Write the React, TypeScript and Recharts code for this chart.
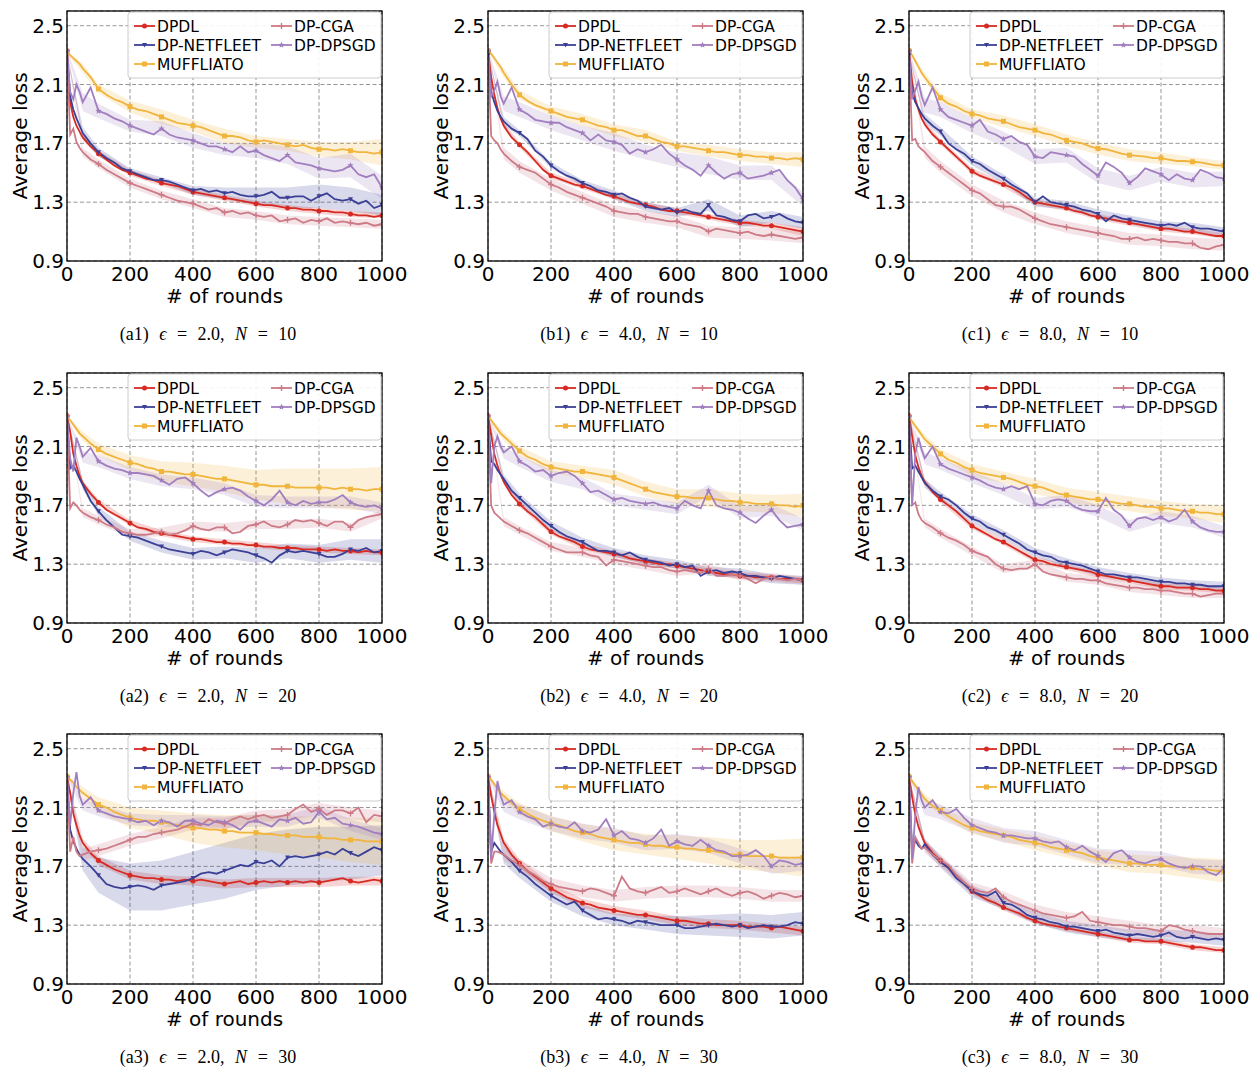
import React from 'react';
import { ComposedChart, Line, Area, XAxis, YAxis, CartesianGrid } from 'recharts';

// ---------- axes / categories ----------
const ROUNDS = [0, 10, 20, 30, 40, 50, 75, 100, 125, 150, 175, 200, 225, 250, 275, 300, 325, 350, 375, 400, 425, 450, 475, 500, 525, 550, 575, 600, 625, 650, 675, 700, 725, 750, 775, 800, 825, 850, 875, 900, 925, 950, 975, 1000];
const BAND_ROUNDS = [0, 50, 100, 200, 300, 400, 500, 600, 700, 800, 900, 1000];
const X_TICKS = [0, 200, 400, 600, 800, 1000];
const Y_TICKS = [0.9, 1.3, 1.7, 2.1, 2.5];
const METHODS = ['DPDL', 'DP-NETFLEET', 'MUFFLIATO', 'DP-CGA', 'DP-DPSGD'];
const COLORS = ['#d62a22', '#3b4096', '#f1b43c', '#cd7a87', '#a17ebf'];
const MARKERS = ['circle', 'triangle', 'square', 'plus', 'star'];

// ---------- (a1) eps=2.0, N=10 ----------
const a1_DPDL = [2.33, 1.98, 1.88, 1.82, 1.78, 1.74, 1.68, 1.63, 1.59, 1.55, 1.52, 1.50, 1.48, 1.46, 1.45, 1.43, 1.42, 1.41, 1.39, 1.37, 1.36, 1.35, 1.34, 1.33, 1.32, 1.31, 1.30, 1.29, 1.28, 1.28, 1.27, 1.26, 1.26, 1.25, 1.25, 1.24, 1.24, 1.23, 1.23, 1.22, 1.21, 1.21, 1.20, 1.21];
const a1_NETFLEET = [2.30, 2.02, 1.93, 1.87, 1.82, 1.77, 1.70, 1.64, 1.60, 1.57, 1.53, 1.51, 1.49, 1.47, 1.45, 1.45, 1.44, 1.42, 1.40, 1.38, 1.39, 1.37, 1.38, 1.36, 1.37, 1.35, 1.34, 1.34, 1.35, 1.37, 1.33, 1.33, 1.34, 1.34, 1.31, 1.34, 1.36, 1.32, 1.31, 1.32, 1.29, 1.31, 1.26, 1.28];
const a1_MUFFLIATO = [2.32, 2.30, 2.28, 2.26, 2.24, 2.21, 2.15, 2.07, 2.03, 2.00, 1.98, 1.95, 1.93, 1.92, 1.90, 1.88, 1.86, 1.84, 1.83, 1.82, 1.81, 1.79, 1.77, 1.75, 1.75, 1.74, 1.72, 1.71, 1.72, 1.71, 1.70, 1.69, 1.68, 1.69, 1.67, 1.66, 1.66, 1.65, 1.66, 1.65, 1.64, 1.64, 1.63, 1.64];
const a1_CGA = [2.33, 1.76, 1.80, 1.71, 1.67, 1.64, 1.59, 1.56, 1.52, 1.49, 1.46, 1.43, 1.41, 1.39, 1.37, 1.35, 1.33, 1.31, 1.30, 1.29, 1.27, 1.25, 1.26, 1.23, 1.24, 1.22, 1.23, 1.21, 1.20, 1.21, 1.17, 1.18, 1.19, 1.16, 1.18, 1.17, 1.19, 1.16, 1.17, 1.16, 1.15, 1.16, 1.14, 1.15];
const a1_DPSGD = [2.33, 2.05, 2.00, 2.10, 2.05, 1.98, 2.08, 1.92, 1.90, 1.87, 1.85, 1.82, 1.80, 1.78, 1.76, 1.80, 1.76, 1.74, 1.73, 1.72, 1.70, 1.68, 1.68, 1.66, 1.64, 1.68, 1.64, 1.65, 1.62, 1.60, 1.58, 1.62, 1.57, 1.56, 1.55, 1.53, 1.52, 1.51, 1.52, 1.55, 1.49, 1.47, 1.49, 1.40];
const a1_sd_DPDL = [0.01, 0.02, 0.02, 0.02, 0.02, 0.02, 0.02, 0.02, 0.02, 0.02, 0.02, 0.02];
const a1_sd_NETFLEET = [0.01, 0.04, 0.03, 0.02, 0.02, 0.03, 0.04, 0.06, 0.07, 0.08, 0.08, 0.07];
const a1_sd_MUFFLIATO = [0.01, 0.03, 0.03, 0.04, 0.05, 0.04, 0.05, 0.04, 0.04, 0.05, 0.06, 0.09];
const a1_sd_CGA = [0.01, 0.03, 0.03, 0.03, 0.03, 0.03, 0.03, 0.03, 0.03, 0.03, 0.03, 0.03];
const a1_sd_DPSGD = [0.01, 0.06, 0.05, 0.04, 0.05, 0.05, 0.04, 0.05, 0.06, 0.07, 0.08, 0.08];

// ---------- (b1) eps=4.0, N=10 ----------
const b1_DPDL = [2.33, 2.15, 2.03, 1.94, 1.87, 1.82, 1.74, 1.69, 1.64, 1.58, 1.52, 1.48, 1.46, 1.44, 1.42, 1.41, 1.39, 1.37, 1.35, 1.34, 1.32, 1.30, 1.29, 1.28, 1.27, 1.25, 1.24, 1.24, 1.23, 1.22, 1.21, 1.20, 1.19, 1.18, 1.17, 1.16, 1.16, 1.15, 1.14, 1.14, 1.13, 1.12, 1.11, 1.10];
const b1_NETFLEET = [2.30, 2.05, 1.98, 1.92, 1.88, 1.85, 1.80, 1.77, 1.73, 1.65, 1.61, 1.55, 1.51, 1.48, 1.46, 1.43, 1.41, 1.38, 1.37, 1.35, 1.36, 1.33, 1.31, 1.27, 1.26, 1.25, 1.26, 1.23, 1.25, 1.23, 1.22, 1.28, 1.21, 1.20, 1.18, 1.17, 1.21, 1.22, 1.19, 1.20, 1.22, 1.19, 1.17, 1.16];
const b1_MUFFLIATO = [2.33, 2.31, 2.28, 2.25, 2.22, 2.18, 2.10, 2.03, 1.99, 1.96, 1.94, 1.92, 1.90, 1.88, 1.87, 1.86, 1.84, 1.82, 1.81, 1.79, 1.79, 1.77, 1.75, 1.75, 1.73, 1.71, 1.70, 1.68, 1.68, 1.67, 1.66, 1.65, 1.64, 1.64, 1.63, 1.62, 1.62, 1.61, 1.61, 1.60, 1.60, 1.59, 1.60, 1.59];
const b1_CGA = [2.33, 1.75, 1.72, 1.70, 1.66, 1.63, 1.58, 1.54, 1.52, 1.50, 1.46, 1.42, 1.40, 1.37, 1.35, 1.33, 1.31, 1.29, 1.27, 1.24, 1.23, 1.22, 1.22, 1.20, 1.19, 1.18, 1.17, 1.17, 1.15, 1.14, 1.13, 1.10, 1.12, 1.11, 1.10, 1.09, 1.10, 1.08, 1.07, 1.08, 1.07, 1.06, 1.05, 1.06];
const b1_DPSGD = [2.33, 2.02, 2.06, 2.12, 2.02, 1.97, 2.08, 1.93, 1.90, 1.86, 1.85, 1.84, 1.84, 1.81, 1.79, 1.77, 1.72, 1.76, 1.72, 1.71, 1.69, 1.63, 1.66, 1.64, 1.66, 1.69, 1.63, 1.59, 1.55, 1.52, 1.48, 1.55, 1.50, 1.46, 1.49, 1.50, 1.46, 1.47, 1.48, 1.50, 1.52, 1.45, 1.40, 1.32];
const b1_sd_DPDL = [0.01, 0.02, 0.02, 0.02, 0.02, 0.02, 0.02, 0.02, 0.02, 0.02, 0.02, 0.03];
const b1_sd_NETFLEET = [0.01, 0.03, 0.02, 0.02, 0.02, 0.03, 0.03, 0.03, 0.04, 0.04, 0.04, 0.04];
const b1_sd_MUFFLIATO = [0.01, 0.03, 0.03, 0.03, 0.04, 0.04, 0.04, 0.03, 0.04, 0.04, 0.04, 0.05];
const b1_sd_CGA = [0.01, 0.04, 0.04, 0.04, 0.04, 0.04, 0.04, 0.04, 0.04, 0.04, 0.04, 0.04];
const b1_sd_DPSGD = [0.01, 0.05, 0.05, 0.05, 0.05, 0.06, 0.05, 0.05, 0.06, 0.05, 0.05, 0.05];

// ---------- (c1) eps=8.0, N=10 ----------
const c1_DPDL = [2.33, 2.12, 2.00, 1.93, 1.87, 1.83, 1.76, 1.71, 1.66, 1.61, 1.56, 1.51, 1.48, 1.46, 1.44, 1.42, 1.40, 1.37, 1.33, 1.30, 1.29, 1.28, 1.27, 1.26, 1.24, 1.23, 1.21, 1.20, 1.19, 1.18, 1.17, 1.16, 1.15, 1.14, 1.13, 1.12, 1.12, 1.11, 1.10, 1.10, 1.09, 1.08, 1.07, 1.07];
const c1_NETFLEET = [2.30, 2.04, 1.98, 1.94, 1.90, 1.87, 1.82, 1.78, 1.70, 1.66, 1.63, 1.58, 1.56, 1.52, 1.49, 1.46, 1.42, 1.39, 1.36, 1.30, 1.34, 1.30, 1.29, 1.28, 1.27, 1.25, 1.24, 1.22, 1.17, 1.21, 1.19, 1.18, 1.17, 1.16, 1.15, 1.14, 1.15, 1.14, 1.16, 1.13, 1.12, 1.12, 1.11, 1.10];
const c1_MUFFLIATO = [2.33, 2.30, 2.26, 2.22, 2.18, 2.15, 2.08, 2.01, 1.97, 1.95, 1.92, 1.90, 1.89, 1.87, 1.86, 1.85, 1.83, 1.81, 1.80, 1.79, 1.77, 1.76, 1.74, 1.72, 1.71, 1.70, 1.68, 1.665, 1.66, 1.645, 1.63, 1.62, 1.615, 1.61, 1.60, 1.60, 1.59, 1.58, 1.58, 1.575, 1.57, 1.56, 1.55, 1.55];
const c1_CGA = [2.33, 1.72, 1.73, 1.68, 1.66, 1.64, 1.58, 1.54, 1.50, 1.46, 1.42, 1.38, 1.36, 1.32, 1.28, 1.27, 1.27, 1.25, 1.22, 1.19, 1.17, 1.15, 1.14, 1.13, 1.12, 1.11, 1.10, 1.09, 1.08, 1.07, 1.05, 1.05, 1.06, 1.04, 1.05, 1.04, 1.03, 1.03, 1.02, 1.02, 0.99, 0.98, 1.00, 1.01];
const c1_DPSGD = [2.33, 2.00, 2.06, 2.12, 2.02, 1.96, 2.08, 1.93, 1.88, 1.86, 1.84, 1.82, 1.86, 1.78, 1.76, 1.73, 1.75, 1.71, 1.69, 1.61, 1.60, 1.64, 1.63, 1.62, 1.61, 1.56, 1.52, 1.48, 1.57, 1.54, 1.50, 1.43, 1.47, 1.53, 1.51, 1.49, 1.45, 1.49, 1.46, 1.45, 1.52, 1.50, 1.47, 1.46];
const c1_sd_DPDL = [0.01, 0.02, 0.02, 0.02, 0.02, 0.02, 0.02, 0.02, 0.02, 0.02, 0.02, 0.02];
const c1_sd_NETFLEET = [0.01, 0.03, 0.03, 0.03, 0.03, 0.03, 0.03, 0.03, 0.03, 0.03, 0.03, 0.03];
const c1_sd_MUFFLIATO = [0.01, 0.03, 0.03, 0.03, 0.04, 0.04, 0.04, 0.04, 0.04, 0.04, 0.03, 0.03];
const c1_sd_CGA = [0.01, 0.04, 0.04, 0.04, 0.04, 0.04, 0.04, 0.04, 0.04, 0.04, 0.04, 0.04];
const c1_sd_DPSGD = [0.01, 0.05, 0.05, 0.05, 0.05, 0.05, 0.05, 0.05, 0.05, 0.05, 0.05, 0.05];

// ---------- (a2) eps=2.0, N=20 ----------
const a2_DPDL = [2.31, 2.20, 2.05, 1.97, 1.90, 1.85, 1.78, 1.72, 1.67, 1.64, 1.61, 1.58, 1.55, 1.54, 1.52, 1.51, 1.50, 1.49, 1.48, 1.47, 1.47, 1.46, 1.45, 1.45, 1.44, 1.44, 1.43, 1.43, 1.42, 1.42, 1.41, 1.41, 1.41, 1.40, 1.40, 1.40, 1.39, 1.40, 1.39, 1.39, 1.38, 1.39, 1.38, 1.38];
const a2_NETFLEET = [2.30, 1.95, 1.97, 1.93, 1.88, 1.84, 1.73, 1.66, 1.60, 1.55, 1.50, 1.49, 1.48, 1.46, 1.44, 1.42, 1.40, 1.39, 1.38, 1.37, 1.39, 1.38, 1.36, 1.38, 1.40, 1.39, 1.38, 1.36, 1.34, 1.31, 1.36, 1.39, 1.38, 1.39, 1.38, 1.37, 1.35, 1.35, 1.37, 1.40, 1.39, 1.41, 1.38, 1.39];
const a2_MUFFLIATO = [2.30, 2.28, 2.25, 2.22, 2.19, 2.17, 2.12, 2.08, 2.05, 2.03, 2.01, 1.99, 1.98, 1.96, 1.95, 1.93, 1.93, 1.92, 1.91, 1.91, 1.90, 1.89, 1.88, 1.88, 1.87, 1.86, 1.85, 1.84, 1.84, 1.83, 1.83, 1.83, 1.82, 1.82, 1.82, 1.82, 1.82, 1.81, 1.82, 1.81, 1.81, 1.80, 1.81, 1.81];
const a2_CGA = [2.31, 1.68, 1.72, 1.70, 1.67, 1.65, 1.62, 1.60, 1.57, 1.55, 1.52, 1.51, 1.50, 1.50, 1.51, 1.52, 1.50, 1.51, 1.53, 1.56, 1.54, 1.53, 1.55, 1.55, 1.51, 1.52, 1.56, 1.57, 1.59, 1.56, 1.55, 1.57, 1.60, 1.59, 1.60, 1.58, 1.56, 1.59, 1.59, 1.55, 1.60, 1.62, 1.63, 1.64];
const a2_DPSGD = [2.30, 2.02, 1.93, 2.16, 2.10, 2.03, 2.09, 2.00, 1.97, 1.95, 1.94, 1.92, 1.92, 1.91, 1.90, 1.87, 1.84, 1.88, 1.89, 1.85, 1.80, 1.76, 1.79, 1.81, 1.82, 1.80, 1.76, 1.73, 1.70, 1.74, 1.80, 1.72, 1.70, 1.73, 1.71, 1.72, 1.72, 1.74, 1.77, 1.72, 1.70, 1.69, 1.70, 1.68];
const a2_sd_DPDL = [0.01, 0.02, 0.02, 0.02, 0.02, 0.02, 0.02, 0.02, 0.02, 0.02, 0.02, 0.02];
const a2_sd_NETFLEET = [0.01, 0.03, 0.03, 0.03, 0.04, 0.04, 0.04, 0.05, 0.05, 0.06, 0.07, 0.08];
const a2_sd_MUFFLIATO = [0.01, 0.03, 0.04, 0.05, 0.07, 0.08, 0.09, 0.10, 0.12, 0.13, 0.14, 0.15];
const a2_sd_CGA = [0.01, 0.03, 0.03, 0.03, 0.03, 0.03, 0.03, 0.03, 0.03, 0.03, 0.03, 0.03];
const a2_sd_DPSGD = [0.01, 0.04, 0.04, 0.04, 0.04, 0.04, 0.04, 0.04, 0.04, 0.04, 0.04, 0.04];

// ---------- (b2) eps=4.0, N=20 ----------
const b2_DPDL = [2.31, 2.18, 2.05, 1.97, 1.91, 1.86, 1.77, 1.71, 1.66, 1.62, 1.57, 1.52, 1.49, 1.47, 1.45, 1.42, 1.40, 1.39, 1.38, 1.37, 1.36, 1.34, 1.33, 1.32, 1.31, 1.30, 1.30, 1.29, 1.28, 1.27, 1.26, 1.25, 1.24, 1.23, 1.23, 1.22, 1.22, 1.21, 1.21, 1.21, 1.20, 1.20, 1.20, 1.19];
const b2_NETFLEET = [2.30, 2.00, 1.98, 1.94, 1.91, 1.88, 1.80, 1.75, 1.70, 1.65, 1.60, 1.56, 1.52, 1.49, 1.47, 1.45, 1.42, 1.39, 1.39, 1.38, 1.36, 1.38, 1.35, 1.33, 1.32, 1.31, 1.29, 1.30, 1.28, 1.29, 1.22, 1.25, 1.26, 1.24, 1.25, 1.24, 1.22, 1.22, 1.21, 1.20, 1.22, 1.21, 1.20, 1.19];
const b2_MUFFLIATO = [2.30, 2.28, 2.25, 2.22, 2.19, 2.17, 2.12, 2.07, 2.03, 2.01, 1.98, 1.96, 1.95, 1.94, 1.93, 1.93, 1.92, 1.91, 1.90, 1.89, 1.87, 1.85, 1.83, 1.81, 1.79, 1.78, 1.77, 1.76, 1.76, 1.75, 1.75, 1.75, 1.74, 1.73, 1.73, 1.72, 1.72, 1.71, 1.71, 1.71, 1.70, 1.70, 1.69, 1.70];
const b2_CGA = [2.31, 1.70, 1.65, 1.63, 1.61, 1.59, 1.56, 1.53, 1.51, 1.48, 1.45, 1.42, 1.40, 1.38, 1.38, 1.38, 1.36, 1.35, 1.29, 1.33, 1.32, 1.31, 1.30, 1.29, 1.28, 1.28, 1.26, 1.25, 1.26, 1.25, 1.24, 1.27, 1.22, 1.22, 1.23, 1.22, 1.20, 1.17, 1.20, 1.21, 1.20, 1.19, 1.20, 1.19];
const b2_DPSGD = [2.30, 1.85, 2.10, 2.17, 2.10, 2.06, 2.10, 2.00, 1.97, 1.93, 1.94, 1.90, 1.92, 1.93, 1.90, 1.85, 1.79, 1.80, 1.77, 1.74, 1.75, 1.73, 1.72, 1.71, 1.72, 1.70, 1.69, 1.68, 1.73, 1.70, 1.68, 1.80, 1.70, 1.68, 1.67, 1.65, 1.61, 1.58, 1.63, 1.67, 1.60, 1.55, 1.56, 1.57];
const b2_sd_DPDL = [0.01, 0.02, 0.02, 0.02, 0.02, 0.02, 0.02, 0.02, 0.02, 0.02, 0.02, 0.02];
const b2_sd_NETFLEET = [0.01, 0.03, 0.03, 0.03, 0.03, 0.03, 0.03, 0.03, 0.03, 0.03, 0.03, 0.03];
const b2_sd_MUFFLIATO = [0.01, 0.03, 0.03, 0.04, 0.04, 0.05, 0.05, 0.05, 0.06, 0.06, 0.06, 0.08];
const b2_sd_CGA = [0.01, 0.03, 0.03, 0.03, 0.03, 0.03, 0.03, 0.03, 0.03, 0.03, 0.03, 0.03];
const b2_sd_DPSGD = [0.01, 0.04, 0.04, 0.04, 0.04, 0.04, 0.04, 0.04, 0.04, 0.04, 0.04, 0.04];

// ---------- (c2) eps=8.0, N=20 ----------
const c2_DPDL = [2.31, 2.17, 2.04, 1.96, 1.90, 1.86, 1.79, 1.74, 1.70, 1.66, 1.61, 1.56, 1.53, 1.50, 1.47, 1.45, 1.42, 1.39, 1.36, 1.33, 1.32, 1.30, 1.29, 1.28, 1.27, 1.26, 1.25, 1.23, 1.22, 1.21, 1.20, 1.19, 1.18, 1.17, 1.16, 1.15, 1.15, 1.14, 1.14, 1.14, 1.13, 1.13, 1.12, 1.12];
const c2_NETFLEET = [2.30, 1.95, 1.97, 1.93, 1.89, 1.85, 1.80, 1.76, 1.74, 1.70, 1.65, 1.61, 1.59, 1.55, 1.53, 1.50, 1.47, 1.44, 1.40, 1.38, 1.36, 1.35, 1.32, 1.31, 1.30, 1.29, 1.27, 1.25, 1.23, 1.23, 1.22, 1.21, 1.21, 1.20, 1.19, 1.18, 1.18, 1.17, 1.17, 1.16, 1.16, 1.15, 1.15, 1.15];
const c2_MUFFLIATO = [2.30, 2.27, 2.24, 2.21, 2.18, 2.15, 2.10, 2.05, 2.01, 1.99, 1.96, 1.94, 1.92, 1.91, 1.90, 1.89, 1.88, 1.86, 1.84, 1.83, 1.82, 1.80, 1.78, 1.77, 1.76, 1.75, 1.74, 1.74, 1.73, 1.72, 1.71, 1.71, 1.70, 1.69, 1.69, 1.68, 1.68, 1.67, 1.66, 1.66, 1.65, 1.65, 1.64, 1.64];
const c2_CGA = [2.31, 1.70, 1.72, 1.64, 1.60, 1.58, 1.55, 1.51, 1.48, 1.46, 1.43, 1.39, 1.37, 1.35, 1.30, 1.27, 1.26, 1.27, 1.27, 1.30, 1.25, 1.23, 1.22, 1.21, 1.20, 1.20, 1.19, 1.19, 1.17, 1.16, 1.15, 1.14, 1.14, 1.13, 1.13, 1.12, 1.12, 1.11, 1.10, 1.10, 1.08, 1.09, 1.10, 1.10];
const c2_DPSGD = [2.30, 1.70, 2.05, 2.16, 2.08, 2.02, 2.10, 1.98, 1.95, 1.93, 1.91, 1.89, 1.87, 1.84, 1.82, 1.81, 1.83, 1.81, 1.83, 1.71, 1.70, 1.73, 1.74, 1.73, 1.69, 1.67, 1.66, 1.66, 1.75, 1.67, 1.63, 1.56, 1.61, 1.62, 1.60, 1.62, 1.59, 1.61, 1.67, 1.59, 1.55, 1.53, 1.52, 1.52];
const c2_sd_DPDL = [0.01, 0.02, 0.02, 0.02, 0.02, 0.02, 0.02, 0.02, 0.02, 0.02, 0.02, 0.02];
const c2_sd_NETFLEET = [0.01, 0.03, 0.03, 0.03, 0.03, 0.03, 0.03, 0.03, 0.03, 0.03, 0.03, 0.03];
const c2_sd_MUFFLIATO = [0.01, 0.03, 0.03, 0.04, 0.04, 0.05, 0.05, 0.05, 0.05, 0.05, 0.05, 0.06];
const c2_sd_CGA = [0.01, 0.03, 0.03, 0.03, 0.03, 0.03, 0.03, 0.03, 0.03, 0.03, 0.03, 0.03];
const c2_sd_DPSGD = [0.01, 0.04, 0.04, 0.04, 0.04, 0.04, 0.04, 0.04, 0.04, 0.04, 0.04, 0.04];

// ---------- (a3) eps=2.0, N=30 ----------
const a3_DPDL = [2.31, 2.20, 2.06, 1.98, 1.91, 1.86, 1.79, 1.74, 1.71, 1.68, 1.66, 1.64, 1.63, 1.62, 1.62, 1.61, 1.61, 1.60, 1.61, 1.60, 1.61, 1.60, 1.59, 1.58, 1.59, 1.60, 1.58, 1.59, 1.60, 1.59, 1.60, 1.59, 1.60, 1.59, 1.60, 1.59, 1.60, 1.61, 1.62, 1.60, 1.59, 1.60, 1.61, 1.60];
const a3_NETFLEET = [2.30, 1.95, 1.87, 1.82, 1.78, 1.75, 1.70, 1.64, 1.58, 1.56, 1.55, 1.56, 1.57, 1.56, 1.54, 1.57, 1.58, 1.59, 1.60, 1.62, 1.65, 1.66, 1.65, 1.67, 1.69, 1.71, 1.70, 1.73, 1.72, 1.74, 1.70, 1.76, 1.77, 1.76, 1.77, 1.78, 1.80, 1.78, 1.82, 1.79, 1.77, 1.80, 1.83, 1.81];
const a3_MUFFLIATO = [2.31, 2.29, 2.27, 2.24, 2.22, 2.20, 2.16, 2.12, 2.10, 2.07, 2.05, 2.03, 2.02, 2.01, 2.01, 2.00, 1.99, 1.98, 1.97, 1.96, 1.96, 1.95, 1.95, 1.94, 1.94, 1.93, 1.93, 1.93, 1.92, 1.92, 1.91, 1.91, 1.91, 1.90, 1.90, 1.90, 1.89, 1.89, 1.88, 1.88, 1.88, 1.87, 1.87, 1.87];
const a3_CGA = [2.31, 1.80, 1.90, 1.80, 1.77, 1.78, 1.80, 1.81, 1.82, 1.84, 1.86, 1.88, 1.90, 1.90, 1.92, 1.93, 1.94, 1.95, 1.97, 1.99, 1.98, 2.02, 2.00, 1.99, 2.02, 2.04, 2.02, 2.04, 2.05, 2.03, 2.04, 2.05, 2.09, 2.12, 2.07, 2.09, 2.05, 2.08, 2.08, 2.06, 2.10, 2.00, 2.05, 2.04];
const a3_DPSGD = [2.31, 1.98, 2.20, 2.34, 2.18, 2.12, 2.17, 2.08, 2.06, 2.04, 2.03, 2.02, 2.00, 2.01, 1.98, 2.01, 2.00, 1.97, 2.01, 2.01, 1.99, 1.98, 2.01, 2.00, 1.98, 1.95, 2.00, 2.01, 1.99, 1.97, 2.02, 2.01, 2.03, 1.99, 2.00, 2.07, 2.02, 2.03, 1.99, 1.98, 1.97, 1.95, 1.93, 1.92];
const a3_sd_DPDL = [0.01, 0.03, 0.03, 0.03, 0.03, 0.03, 0.03, 0.03, 0.03, 0.03, 0.03, 0.03];
const a3_sd_NETFLEET = [0.01, 0.08, 0.12, 0.16, 0.17, 0.18, 0.19, 0.19, 0.19, 0.19, 0.18, 0.17];
const a3_sd_MUFFLIATO = [0.01, 0.04, 0.05, 0.07, 0.08, 0.10, 0.11, 0.12, 0.13, 0.14, 0.15, 0.16];
const a3_sd_CGA = [0.01, 0.04, 0.04, 0.04, 0.04, 0.04, 0.04, 0.04, 0.04, 0.04, 0.04, 0.04];
const a3_sd_DPSGD = [0.01, 0.04, 0.04, 0.04, 0.04, 0.04, 0.04, 0.04, 0.04, 0.04, 0.04, 0.04];

// ---------- (b3) eps=4.0, N=30 ----------
const b3_DPDL = [2.31, 2.18, 2.07, 1.98, 1.92, 1.86, 1.78, 1.72, 1.67, 1.63, 1.59, 1.55, 1.52, 1.49, 1.47, 1.45, 1.44, 1.42, 1.41, 1.40, 1.39, 1.38, 1.37, 1.37, 1.36, 1.35, 1.34, 1.33, 1.33, 1.32, 1.31, 1.31, 1.30, 1.30, 1.30, 1.30, 1.29, 1.29, 1.29, 1.28, 1.29, 1.28, 1.27, 1.26];
const b3_NETFLEET = [2.30, 1.80, 1.86, 1.83, 1.80, 1.78, 1.73, 1.67, 1.63, 1.58, 1.54, 1.50, 1.47, 1.44, 1.46, 1.40, 1.37, 1.34, 1.35, 1.34, 1.33, 1.31, 1.33, 1.32, 1.31, 1.30, 1.30, 1.30, 1.28, 1.28, 1.29, 1.30, 1.31, 1.30, 1.29, 1.30, 1.28, 1.29, 1.30, 1.29, 1.29, 1.30, 1.32, 1.31];
const b3_MUFFLIATO = [2.31, 2.29, 2.26, 2.23, 2.20, 2.18, 2.13, 2.09, 2.06, 2.03, 2.01, 1.99, 1.98, 1.96, 1.94, 1.93, 1.92, 1.90, 1.89, 1.88, 1.87, 1.86, 1.86, 1.85, 1.84, 1.84, 1.83, 1.83, 1.82, 1.82, 1.81, 1.81, 1.80, 1.79, 1.78, 1.78, 1.77, 1.77, 1.77, 1.77, 1.76, 1.76, 1.76, 1.76];
const b3_CGA = [2.31, 1.72, 1.80, 1.80, 1.79, 1.78, 1.74, 1.71, 1.67, 1.64, 1.60, 1.58, 1.56, 1.55, 1.54, 1.53, 1.55, 1.54, 1.52, 1.50, 1.63, 1.55, 1.53, 1.52, 1.54, 1.56, 1.52, 1.53, 1.55, 1.53, 1.51, 1.53, 1.55, 1.52, 1.50, 1.52, 1.53, 1.51, 1.48, 1.50, 1.52, 1.51, 1.49, 1.50];
const b3_DPSGD = [2.31, 1.75, 2.05, 2.28, 2.18, 2.12, 2.15, 2.07, 2.04, 2.02, 1.97, 1.99, 1.97, 1.96, 2.00, 1.94, 1.93, 1.95, 2.02, 1.91, 1.94, 1.89, 1.88, 1.86, 1.89, 1.95, 1.84, 1.87, 1.85, 1.84, 1.88, 1.84, 1.81, 1.80, 1.77, 1.77, 1.78, 1.81, 1.77, 1.70, 1.74, 1.73, 1.71, 1.72];
const b3_sd_DPDL = [0.01, 0.03, 0.03, 0.03, 0.03, 0.03, 0.03, 0.03, 0.03, 0.03, 0.03, 0.03];
const b3_sd_NETFLEET = [0.01, 0.06, 0.05, 0.04, 0.04, 0.04, 0.05, 0.06, 0.07, 0.08, 0.08, 0.08];
const b3_sd_MUFFLIATO = [0.01, 0.03, 0.04, 0.05, 0.06, 0.07, 0.07, 0.08, 0.09, 0.10, 0.11, 0.13];
const b3_sd_CGA = [0.01, 0.04, 0.04, 0.04, 0.04, 0.04, 0.04, 0.04, 0.04, 0.04, 0.04, 0.04];
const b3_sd_DPSGD = [0.01, 0.05, 0.05, 0.05, 0.05, 0.05, 0.05, 0.05, 0.05, 0.05, 0.05, 0.05];

// ---------- (c3) eps=8.0, N=30 ----------
const c3_DPDL = [2.31, 2.17, 2.05, 1.97, 1.91, 1.86, 1.79, 1.74, 1.69, 1.64, 1.59, 1.53, 1.50, 1.47, 1.45, 1.42, 1.40, 1.38, 1.35, 1.33, 1.31, 1.30, 1.29, 1.28, 1.27, 1.26, 1.25, 1.24, 1.23, 1.22, 1.21, 1.20, 1.20, 1.19, 1.19, 1.19, 1.18, 1.17, 1.16, 1.15, 1.15, 1.14, 1.13, 1.13];
const c3_NETFLEET = [2.30, 1.80, 1.88, 1.84, 1.82, 1.85, 1.78, 1.73, 1.69, 1.62, 1.58, 1.53, 1.51, 1.50, 1.53, 1.45, 1.44, 1.41, 1.37, 1.35, 1.34, 1.32, 1.31, 1.29, 1.29, 1.28, 1.27, 1.26, 1.27, 1.25, 1.24, 1.23, 1.24, 1.23, 1.22, 1.23, 1.25, 1.22, 1.21, 1.22, 1.21, 1.20, 1.21, 1.20];
const c3_MUFFLIATO = [2.31, 2.28, 2.25, 2.22, 2.19, 2.16, 2.11, 2.08, 2.04, 2.01, 1.98, 1.96, 1.94, 1.93, 1.92, 1.91, 1.90, 1.88, 1.87, 1.86, 1.85, 1.83, 1.82, 1.81, 1.80, 1.79, 1.77, 1.76, 1.75, 1.74, 1.73, 1.72, 1.72, 1.71, 1.71, 1.71, 1.70, 1.70, 1.69, 1.69, 1.68, 1.68, 1.67, 1.67];
const c3_CGA = [2.31, 1.72, 1.90, 1.86, 1.82, 1.83, 1.78, 1.74, 1.71, 1.64, 1.59, 1.55, 1.53, 1.52, 1.55, 1.49, 1.46, 1.44, 1.42, 1.40, 1.38, 1.37, 1.36, 1.35, 1.36, 1.39, 1.33, 1.32, 1.31, 1.30, 1.30, 1.29, 1.28, 1.28, 1.27, 1.26, 1.30, 1.29, 1.27, 1.26, 1.25, 1.24, 1.24, 1.24];
const c3_DPSGD = [2.31, 1.75, 2.05, 2.24, 2.15, 2.10, 2.15, 2.07, 2.06, 2.09, 2.03, 1.98, 1.96, 1.94, 1.93, 1.91, 1.91, 1.90, 1.89, 1.89, 1.87, 1.86, 1.87, 1.83, 1.81, 1.84, 1.80, 1.77, 1.73, 1.79, 1.81, 1.76, 1.73, 1.72, 1.74, 1.75, 1.72, 1.70, 1.69, 1.70, 1.70, 1.66, 1.64, 1.69];
const c3_sd_DPDL = [0.01, 0.02, 0.02, 0.02, 0.02, 0.02, 0.02, 0.02, 0.02, 0.02, 0.02, 0.02];
const c3_sd_NETFLEET = [0.01, 0.04, 0.04, 0.04, 0.04, 0.04, 0.04, 0.04, 0.04, 0.04, 0.04, 0.04];
const c3_sd_MUFFLIATO = [0.01, 0.03, 0.03, 0.04, 0.04, 0.05, 0.05, 0.05, 0.06, 0.06, 0.07, 0.08];
const c3_sd_CGA = [0.01, 0.04, 0.04, 0.04, 0.04, 0.04, 0.04, 0.04, 0.04, 0.04, 0.04, 0.04];
const c3_sd_DPSGD = [0.01, 0.05, 0.05, 0.05, 0.05, 0.05, 0.05, 0.05, 0.05, 0.05, 0.05, 0.05];

const PANELS = [
  { tag: 'a1', eps: '2.0', n: '10', col: 0, row: 0, series: [a1_DPDL, a1_NETFLEET, a1_MUFFLIATO, a1_CGA, a1_DPSGD], sd: [a1_sd_DPDL, a1_sd_NETFLEET, a1_sd_MUFFLIATO, a1_sd_CGA, a1_sd_DPSGD] },
  { tag: 'b1', eps: '4.0', n: '10', col: 1, row: 0, series: [b1_DPDL, b1_NETFLEET, b1_MUFFLIATO, b1_CGA, b1_DPSGD], sd: [b1_sd_DPDL, b1_sd_NETFLEET, b1_sd_MUFFLIATO, b1_sd_CGA, b1_sd_DPSGD] },
  { tag: 'c1', eps: '8.0', n: '10', col: 2, row: 0, series: [c1_DPDL, c1_NETFLEET, c1_MUFFLIATO, c1_CGA, c1_DPSGD], sd: [c1_sd_DPDL, c1_sd_NETFLEET, c1_sd_MUFFLIATO, c1_sd_CGA, c1_sd_DPSGD] },
  { tag: 'a2', eps: '2.0', n: '20', col: 0, row: 1, series: [a2_DPDL, a2_NETFLEET, a2_MUFFLIATO, a2_CGA, a2_DPSGD], sd: [a2_sd_DPDL, a2_sd_NETFLEET, a2_sd_MUFFLIATO, a2_sd_CGA, a2_sd_DPSGD] },
  { tag: 'b2', eps: '4.0', n: '20', col: 1, row: 1, series: [b2_DPDL, b2_NETFLEET, b2_MUFFLIATO, b2_CGA, b2_DPSGD], sd: [b2_sd_DPDL, b2_sd_NETFLEET, b2_sd_MUFFLIATO, b2_sd_CGA, b2_sd_DPSGD] },
  { tag: 'c2', eps: '8.0', n: '20', col: 2, row: 1, series: [c2_DPDL, c2_NETFLEET, c2_MUFFLIATO, c2_CGA, c2_DPSGD], sd: [c2_sd_DPDL, c2_sd_NETFLEET, c2_sd_MUFFLIATO, c2_sd_CGA, c2_sd_DPSGD] },
  { tag: 'a3', eps: '2.0', n: '30', col: 0, row: 2, series: [a3_DPDL, a3_NETFLEET, a3_MUFFLIATO, a3_CGA, a3_DPSGD], sd: [a3_sd_DPDL, a3_sd_NETFLEET, a3_sd_MUFFLIATO, a3_sd_CGA, a3_sd_DPSGD] },
  { tag: 'b3', eps: '4.0', n: '30', col: 1, row: 2, series: [b3_DPDL, b3_NETFLEET, b3_MUFFLIATO, b3_CGA, b3_DPSGD], sd: [b3_sd_DPDL, b3_sd_NETFLEET, b3_sd_MUFFLIATO, b3_sd_CGA, b3_sd_DPSGD] },
  { tag: 'c3', eps: '8.0', n: '30', col: 2, row: 2, series: [c3_DPDL, c3_NETFLEET, c3_MUFFLIATO, c3_CGA, c3_DPSGD], sd: [c3_sd_DPDL, c3_sd_NETFLEET, c3_sd_MUFFLIATO, c3_sd_CGA, c3_sd_DPSGD] },
];

// ---------- layout ----------
const PLOT_LEFT = [67, 488, 909];
const PLOT_TOP = [11, 373, 734];
const PLOT_W = 315;
const PLOT_H = 250;
const OFF_X = 67; // plot left inside panel box
const OFF_Y = 11; // plot top inside panel box
const CHART_W = 422;
const CHART_H = 300;
const SANS = 'DejaVu Sans, Verdana, sans-serif';
const SERIF = 'Liberation Serif, DejaVu Serif, Times New Roman, serif';

function Marker({ shape, cx, cy, color, size = 5 }: any) {
  const h = size / 2;
  if (shape === 'circle') return <circle cx={cx} cy={cy} r={h} fill={color} />;
  if (shape === 'triangle') return <polygon points={`${cx - h},${cy - h * 0.8} ${cx + h},${cy - h * 0.8} ${cx},${cy + h}`} fill={color} />;
  if (shape === 'square') return <rect x={cx - h} y={cy - h} width={size} height={size} fill={color} />;
  if (shape === 'plus') return <path d={`M${cx - h - 0.5},${cy}H${cx + h + 0.5}M${cx},${cy - h - 0.5}V${cy + h + 0.5}`} stroke={color} strokeWidth={1.4} fill="none" />;
  const pts: string[] = [];
  for (let i = 0; i < 10; i++) {
    const rr = i % 2 === 0 ? h + 0.8 : (h + 0.8) * 0.45;
    const a = -Math.PI / 2 + (i * Math.PI) / 5;
    pts.push(`${cx + rr * Math.cos(a)},${cy + rr * Math.sin(a)}`);
  }
  return <polygon points={pts.join(' ')} fill={color} />;
}

function Panel({ p }: any) {
  const left = PLOT_LEFT[p.col] - OFF_X;
  const top = PLOT_TOP[p.row] - OFF_Y;
  const lines = p.series.map((vals: number[]) => ROUNDS.map((r, i) => ({ r, v: vals[i] })));
  const bands = p.series.map((vals: number[], k: number) =>
    BAND_ROUNDS.map((r, j) => {
      const v = vals[ROUNDS.indexOf(r)];
      const s = p.sd[k][j];
      return { r, range: [v - s, v + s] };
    })
  );
  // legend handle positions, in panel coordinates
  const legendRows = [
    { k: 0, x: 134, y: 15 },
    { k: 1, x: 134, y: 34 },
    { k: 2, x: 134, y: 53 },
    { k: 3, x: 271, y: 15 },
    { k: 4, x: 271, y: 34 },
  ];
  return (
    <div style={{ position: 'absolute', left, top, width: CHART_W, height: 345 }}>
      <ComposedChart width={CHART_W} height={CHART_H} margin={{ top: OFF_Y, right: CHART_W - OFF_X - PLOT_W, bottom: CHART_H - OFF_Y - PLOT_H - 30, left: 7 }}>
        <CartesianGrid stroke="#7a7a7a" strokeDasharray="4 2.5" strokeWidth={0.8} />
        <XAxis
          type="number"
          dataKey="r"
          domain={[0, 1000]}
          ticks={X_TICKS}
          allowDataOverflow
          tickLine={false}
          axisLine={false}
          tickSize={0}
          tickMargin={6}
          height={30}
          interval={0}
          tick={{ fontSize: 20, fill: '#000', fontFamily: SANS }}
        />
        <YAxis
          type="number"
          domain={[0.9, 2.6]}
          ticks={Y_TICKS}
          allowDataOverflow
          tickLine={false}
          axisLine={false}
          tickSize={0}
          tickMargin={3}
          width={60}
          interval={0}
          tickFormatter={(v: number) => v.toFixed(1)}
          tick={{ fontSize: 20, fill: '#000', fontFamily: SANS }}
        />
        {bands.map((b: any, k: number) => (
          <Area
            key={'band' + k}
            data={b}
            dataKey="range"
            type="linear"
            stroke="none"
            fill={COLORS[k]}
            fillOpacity={0.2}
            dot={false}
            activeDot={false}
            isAnimationActive={false}
          />
        ))}
        {lines.map((d: any, k: number) => (
          <Line
            key={'line' + k}
            data={d}
            dataKey="v"
            name={METHODS[k]}
            type="linear"
            stroke={COLORS[k]}
            strokeWidth={1.8}
            activeDot={false}
            isAnimationActive={false}
            dot={(dp: any) =>
              dp.payload && dp.payload.r % 100 === 0 ? (
                <Marker key={'m' + k + '-' + dp.index} shape={MARKERS[k]} cx={dp.cx} cy={dp.cy} color={COLORS[k]} size={5} />
              ) : (
                <g key={'m' + k + '-' + dp.index} />
              )
            }
          />
        ))}
      </ComposedChart>
      <svg width={CHART_W} height={345} style={{ position: 'absolute', left: 0, top: 0, pointerEvents: 'none', overflow: 'visible' }}>
        <rect x={OFF_X} y={OFF_Y} width={PLOT_W} height={PLOT_H} fill="none" stroke="#000" strokeWidth={1.3} />
        <g>
          <rect x={OFF_X + 61} y={OFF_Y + 1} width={253} height={66} rx={3} fill="#fff" fillOpacity={0.9} stroke="#cccccc" strokeWidth={1} />
          {legendRows.map((row) => (
            <g key={'lg' + row.k}>
              <line x1={row.x} x2={row.x + 21} y1={OFF_Y + row.y} y2={OFF_Y + row.y} stroke={COLORS[row.k]} strokeWidth={1.8} />
              <Marker shape={MARKERS[row.k]} cx={row.x + 10.5} cy={OFF_Y + row.y} color={COLORS[row.k]} size={5} />
              <text x={row.x + 23} y={OFF_Y + row.y + 5.5} fontSize={15.5} fontFamily={SANS} fill="#000">
                {METHODS[row.k]}
              </text>
            </g>
          ))}
        </g>
        <text x={27} y={OFF_Y + PLOT_H / 2} transform={`rotate(-90 27 ${OFF_Y + PLOT_H / 2})`} textAnchor="middle" fontSize={20} fontFamily={SANS} fill="#000">
          Average loss
        </text>
        <text x={OFF_X + PLOT_W / 2} y={302.5} textAnchor="middle" fontSize={20} fontFamily={SANS} fill="#000">
          # of rounds
        </text>
        <text x={208} y={340} textAnchor="middle" fontSize={18} fontFamily={SERIF} fill="#000" style={{ whiteSpace: 'pre', wordSpacing: 6 }}>
          <tspan>{'(' + p.tag + ') '}</tspan>
          <tspan fontStyle="italic">ϵ</tspan>
          <tspan>{' = ' + p.eps + ', '}</tspan>
          <tspan fontStyle="italic">N</tspan>
          <tspan>{' = ' + p.n}</tspan>
        </text>
      </svg>
    </div>
  );
}

export default function App() {
  return (
    <div style={{ position: 'absolute', left: 0, top: 0, width: 1260, height: 1068, overflow: 'hidden', background: '#fff' }}>
      {PANELS.map((p) => (
        <Panel key={p.tag} p={p} />
      ))}
    </div>
  );
}
